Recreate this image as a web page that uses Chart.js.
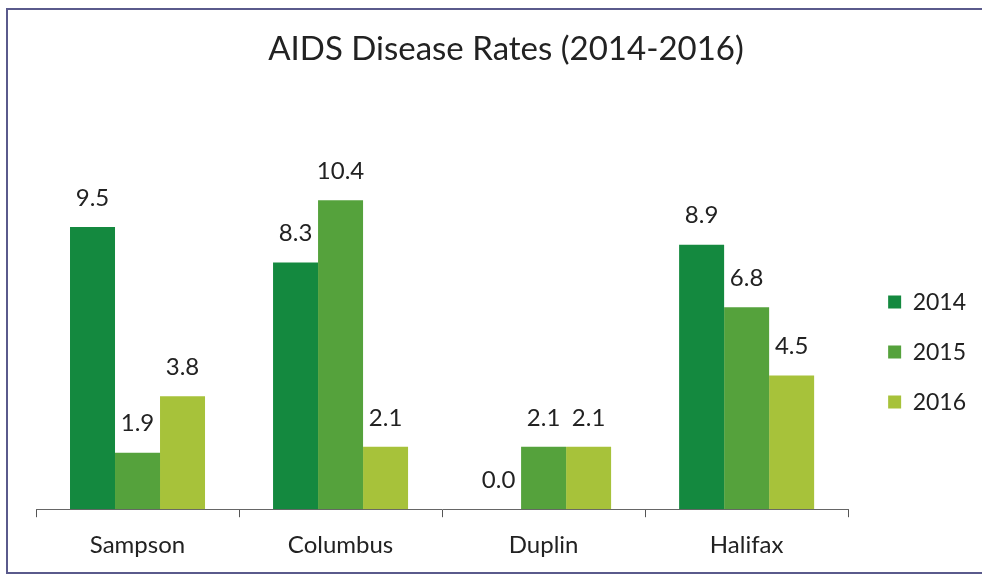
<!DOCTYPE html>
<html>
<head>
<meta charset="utf-8">
<script src="https://cdn.jsdelivr.net/npm/chart.js@4"></script>
<style>
  html, body { margin: 0; padding: 0; background: #fff; overflow: hidden; }
  #wrap { position: relative; width: 982px; height: 576px; overflow: hidden; }
  #frame { position: absolute; left: 6px; top: 8px; width: 1200px; height: 562px;
           border-top: 2px solid #5a5a8c; border-left: 2px solid #5a5a8c; border-bottom: 2px solid #5a5a8c; }
  #myChart { position: absolute; left: 0; top: 0; }
</style>
</head>
<body>
<div id="wrap">
  <div id="frame"></div>
  <canvas id="myChart" width="982" height="576"></canvas>
</div>
<script>
const counties = ['Sampson', 'Columbus', 'Duplin', 'Halifax'];
const years = ['2014', '2015', '2016'];
const rates2014 = [9.5, 8.3, 0.0, 8.9];
const rates2015 = [1.9, 10.4, 2.1, 6.8];
const rates2016 = [3.8, 2.1, 2.1, 4.5];
const colors = ['#14893f', '#55a23c', '#a7c23a'];

const fontFamily = 'Lato, "Open Sans", sans-serif';

// value labels above each bar
const barLabels = {
    id: 'barLabels',
    afterDatasetsDraw(chart) {
        const ctx = chart.ctx;
        ctx.save();
        ctx.font = '24px ' + fontFamily;
        ctx.fillStyle = '#222';
        ctx.textAlign = 'center';
        ctx.textBaseline = 'middle';
        chart.data.datasets.forEach((ds, i) => {
            chart.getDatasetMeta(i).data.forEach((bar, j) => {
                ctx.fillText(ds.data[j].toFixed(1), bar.x, bar.y - 29);
            });
        });
        ctx.restore();
    }
};

const ctx = document.getElementById('myChart').getContext('2d');
const myChart = new Chart(ctx, {
    type: 'bar',
    data: {
        labels: counties,
        datasets: [
            { label: years[0], data: rates2014, backgroundColor: colors[0] },
            { label: years[1], data: rates2015, backgroundColor: colors[1] },
            { label: years[2], data: rates2016, backgroundColor: colors[2] }
        ]
    },
    options: {
        responsive: false,
        animation: false,
        layout: { padding: { left: 36, right: 6, top: 14, bottom: 2 } },
        datasets: { bar: { categoryPercentage: 0.665, barPercentage: 1.0, borderWidth: 0 } },
        scales: {
            x: {
                grid: { drawOnChartArea: false, drawTicks: true, tickLength: 8, color: '#555' },
                border: { display: true, color: '#666', width: 1 },
                ticks: { color: '#222', padding: 14, font: { family: fontFamily, size: 24 } }
            },
            y: {
                display: false,
                min: 0,
                max: 12
            },
            yR: {
                axis: 'y',
                position: 'right',
                display: true,
                grid: { display: false },
                border: { display: false },
                ticks: { display: false },
                afterFit(scale) { scale.width = 13; }
            }
        },
        plugins: {
            title: {
                display: true,
                text: 'AIDS Disease Rates (2014-2016)',
                color: '#222',
                font: { family: fontFamily, size: 33, weight: 'normal' },
                padding: { top: 16, bottom: 83 }
            },
            legend: {
                position: 'right',
                fullSize: false,
                labels: {
                    boxWidth: 13,
                    boxHeight: 13,
                    padding: 27,
                    color: '#222',
                    font: { family: fontFamily, size: 23 }
                },
                title: { display: true, text: ' ', font: { size: 12 }, padding: 14 }
            },
            tooltip: { enabled: false }
        }
    },
    plugins: [barLabels]
});
</script>
</body>
</html>
